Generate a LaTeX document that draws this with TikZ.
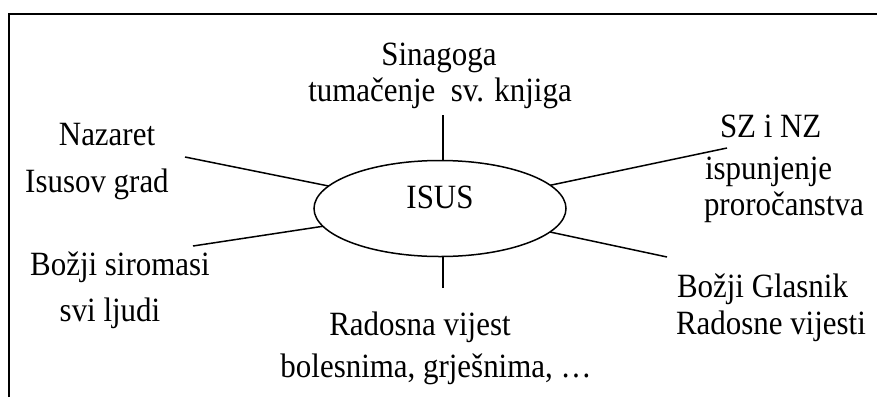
\documentclass[tikz,border=0pt]{standalone}
\usepackage{fontspec}
\setmainfont{Liberation Serif}[FakeStretch=0.91]
\usetikzlibrary{shapes.geometric}
\begin{document}
\begin{tikzpicture}[x=1pt,y=-1pt,
  every node/.style={inner sep=0pt,outer sep=0pt},
  lbl/.style={anchor=base,font=\fontsize{34}{40}\selectfont},
  lblw/.style={lbl,anchor=base west},
  conn/.style={line width=1.5pt},
  frameline/.style={line width=2.2pt}]
\useasboundingbox (0,0) rectangle (877,397);
% frame
\coordinate (fl) at (9,397);
\coordinate (fc) at (9,14);
\coordinate (fr) at (877,14);
\draw[frameline] (fl) -- (fc) -- (fr);
% centre
\node[draw,ellipse,line width=1.5pt,minimum width=252pt,minimum height=96pt,
      font=\fontsize{34}{40}\selectfont,text depth=23pt] (isus) at (440,208.5) {ISUS};
% labels
\node[lbl] (sin1) at (439,65) {Sinagoga};
\node[lbl] (sin2) at (440,101) {tumačenje\ \ sv. knjiga};
\node[lbl] (naz1) at (107,145) {Nazaret};
\node[lbl] (naz2) at (97,192) {Isusov grad};
\node[lbl] (boz1) at (120,275) {Božji siromasi};
\node[lbl] (boz2) at (110,321) {svi ljudi};
\node[lblw] (sz1) at (720,137) {SZ i NZ};
\node[lblw] (sz2) at (705,179) {ispunjenje};
\node[lblw] (sz3) at (704,215) {proročanstva};
\node[lblw] (gl1) at (677,297) {Božji Glasnik};
\node[lblw] (gl2) at (676,334) {Radosne vijesti};
\node[lbl] (rv1) at (420,335) {Radosna vijest};
\node[lbl] (rv2) at (436,377) {bolesnima, grješnima, …};
% connector ends
\coordinate (ptop) at (443,115);
\coordinate (pbot) at (443,288);
\coordinate (pul) at (185,157);
\coordinate (pll) at (193,246);
\coordinate (pur) at (727,148);
\coordinate (plr) at (667,257);
\draw[conn] (ptop) -- (ptop |- isus.north);
\draw[conn] (pbot) -- (pbot |- isus.south);
\draw[conn] (pul) -- (isus);
\draw[conn] (pll) -- (isus);
\draw[conn] (pur) -- (isus);
\draw[conn] (plr) -- (isus);
\end{tikzpicture}
\end{document}
